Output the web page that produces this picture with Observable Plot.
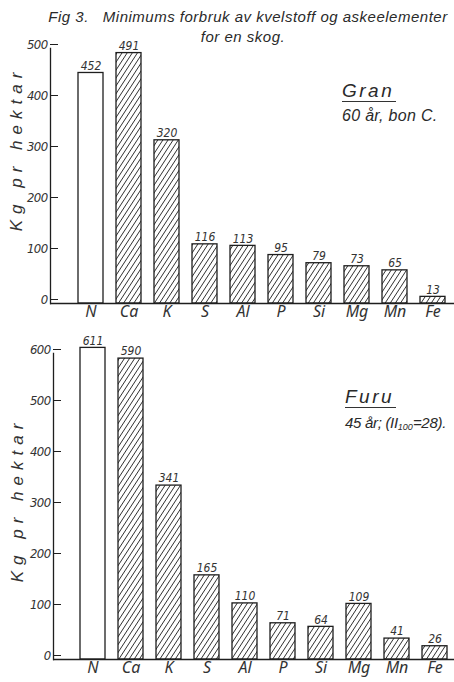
<!DOCTYPE html>
<html><head><meta charset="utf-8">
<script src="https://cdn.jsdelivr.net/npm/d3@7"></script>
<script src="https://cdn.jsdelivr.net/npm/@observablehq/plot@0.6"></script>
<style>
body{margin:0;background:#fff;}
#wrap{position:relative;width:454px;height:682px;overflow:hidden;font-family:"Liberation Sans",Arial,sans-serif;color:#262626;}
#wrap svg{display:block;}
#wrap svg g[aria-label="y-axis tick label"] text{letter-spacing:-0.6px;}
.ov{position:absolute;font-style:italic;white-space:pre;color:#2a2a2a;line-height:1;}
.title{font-size:15px;letter-spacing:0.5px;transform:translateX(-50%);}
.ylab{font-size:17px;letter-spacing:6px;transform:translate(-50%,-50%) rotate(-90deg);padding-left:6px;color:#333;}
.sp{font-size:19px;letter-spacing:2.5px;border-bottom:1.3px solid #333;padding:0 2px 1px 0;}
.sub{font-size:16px;letter-spacing:0.3px;}
.sub2{font-size:15px;letter-spacing:-0.3px;}
.sub2 sub{font-size:9px;vertical-align:-2px;letter-spacing:0;}
</style></head>
<body>
<div id="wrap"></div>
<script>
const elements = ["N","Ca","K","S","Al","P","Si","Mg","Mn","Fe"];
const granValues = [452,491,320,116,113,95,79,73,65,13];
const furuValues = [611,590,341,165,110,71,64,109,41,26];
const granTicks = [0,100,200,300,400,500];
const furuTicks = [0,100,200,300,400,500,600];
const titleLine1 = "Fig 3.   Minimums forbruk av kvelstoff og askeelementer";
const titleLine2 = "for en skog.";
const yLabel = "Kg pr hektar";

const narrow = '"Liberation Sans Narrow","DejaVu Sans Condensed",sans-serif';
const ink = "#1e1e1e";

function panel({values, ticks, yMax, height, marginTop, marginBottom, marginLeft, insetLeft, insetRight, hatchId}) {
  const data = elements.map((e, i) => ({element: e, value: values[i]}));
  const svg = Plot.plot({
    width: 454, height, marginTop, marginBottom, marginLeft, marginRight: 0,
    style: {background: "transparent", color: ink, overflow: "visible"},
    x: {type: "band", domain: elements, paddingInner: 0.35, paddingOuter: 0, insetLeft, insetRight, axis: null},
    y: {domain: [0, yMax], axis: null},
    marks: [
      Plot.barY(data, {filter: d => d.element === "N", x: "element", y: "value", fill: "white", stroke: ink, strokeWidth: 1.3}),
      Plot.barY(data, {filter: d => d.element !== "N", x: "element", y: "value", fill: `url(#${hatchId})`, stroke: ink, strokeWidth: 1.3}),
      Plot.ruleY([0], {stroke: ink, strokeWidth: 1.3}),
      Plot.frame({anchor: "left", stroke: ink, strokeWidth: 1.3}),
      Plot.axisY(ticks, {anchor: "left", tickSize: -8, tickPadding: 11, dy: -4, fontSize: 13, fontStyle: "italic", fontFamily: narrow, stroke: ink, fill: "#333", label: null}),
      Plot.text(data, {x: "element", y: "value", text: d => String(d.value), dy: -7, fontSize: 12, fontStyle: "italic", fontFamily: narrow, fill: "#333"}),
      Plot.axisX({anchor: "bottom", tickSize: 0, tickPadding: 2, fontSize: 16, fontStyle: "italic", fill: "#333", label: null})
    ]
  });
  const defs = d3.select(svg).insert("defs", ":first-child");
  const pat = defs.append("pattern").attr("id", hatchId).attr("patternUnits", "userSpaceOnUse")
    .attr("width", 8).attr("height", 4.3).attr("patternTransform", "rotate(-57)");
  pat.append("rect").attr("width", 8).attr("height", 4.3).attr("fill", "white");
  pat.append("line").attr("x1", 0).attr("x2", 8).attr("y1", 2.15).attr("y2", 2.15).attr("stroke", "#333").attr("stroke-width", 0.9);
  return svg;
}

const wrap = document.getElementById("wrap");
wrap.appendChild(panel({values: granValues, ticks: granTicks, yMax: 500, height: 325, marginTop: 48, marginBottom: 22, marginLeft: 50, insetLeft: 26, insetRight: 8, hatchId: "hatchGran"}));
wrap.appendChild(panel({values: furuValues, ticks: furuTicks, yMax: 600, height: 357, marginTop: 28, marginBottom: 23, marginLeft: 53, insetLeft: 26, insetRight: 6, hatchId: "hatchFuru"}));

function ov(cls, html, left, top) {
  const d = document.createElement("div");
  d.className = "ov " + cls;
  d.innerHTML = html;
  d.style.left = left + "px";
  d.style.top = top + "px";
  wrap.appendChild(d);
  return d;
}
ov("title", titleLine1, 248, 9);
ov("title", titleLine2, 243, 29);
ov("ylab", yLabel, 16, 152);
ov("ylab", yLabel, 17, 503);
ov("sp", "Gran", 342, 81);
ov("sub", "60 år, bon C.", 342, 108);
ov("sp", "Furu", 345, 387);
ov("sub2", "45 år; (II<sub>100</sub>=28).", 345, 415);
</script>
</body></html>
